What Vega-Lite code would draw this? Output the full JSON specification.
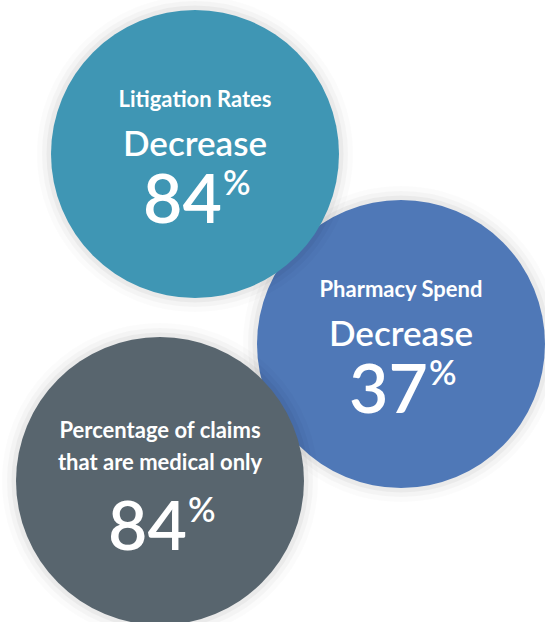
{
  "$schema": "https://vega.github.io/schema/vega-lite/v6.json",
  "width": 545,
  "height": 622,
  "autosize": "none",
  "padding": 0,
  "background": "#ffffff",
  "config": {"view": {"stroke": null}},
  "data": {
    "values": [
      {"id": "litigation", "label": "Litigation Rates", "change": "Decrease", "value": "84", "cx": 195, "cy": 154, "tier": "front"},
      {"id": "pharmacy", "label": "Pharmacy Spend", "change": "Decrease", "value": "37", "cx": 401, "cy": 344, "tier": "back"},
      {"id": "medical", "label": "Percentage of claims\nthat are medical only", "change": "", "value": "84", "cx": 160, "cy": 481, "tier": "front"}
    ]
  },
  "encoding": {
    "x": {"field": "cx", "type": "quantitative", "scale": {"domain": [0, 545], "nice": false, "zero": false}, "axis": null},
    "y": {"field": "cy", "type": "quantitative", "scale": {"domain": [0, 622], "nice": false, "zero": false, "reverse": true}, "axis": null}
  },
  "layer": [
    {"transform": [{"filter": "datum.tier == 'back'"}], "mark": {"type": "point", "shape": "circle", "filled": false, "size": 82944, "color": "#000000", "strokeWidth": 28, "strokeOpacity": 0.02}},
    {"transform": [{"filter": "datum.tier == 'back'"}], "mark": {"type": "point", "shape": "circle", "filled": false, "size": 82944, "color": "#000000", "strokeWidth": 18, "strokeOpacity": 0.035}},
    {"transform": [{"filter": "datum.tier == 'back'"}], "mark": {"type": "point", "shape": "circle", "filled": false, "size": 82944, "color": "#000000", "strokeWidth": 9, "strokeOpacity": 0.05}},
    {"transform": [{"filter": "datum.tier == 'back'"}], "mark": {"type": "circle", "size": 82944, "opacity": 1},
      "encoding": {"color": {"field": "id", "type": "nominal", "scale": {"domain": ["litigation", "pharmacy", "medical"], "range": ["#3f96b4", "#4f78b7", "#58656e"]}, "legend": null}}},
    {"transform": [{"filter": "datum.tier == 'front'"}], "mark": {"type": "point", "shape": "circle", "filled": false, "size": 82944, "color": "#000000", "strokeWidth": 28, "strokeOpacity": 0.02}},
    {"transform": [{"filter": "datum.tier == 'front'"}], "mark": {"type": "point", "shape": "circle", "filled": false, "size": 82944, "color": "#000000", "strokeWidth": 18, "strokeOpacity": 0.035}},
    {"transform": [{"filter": "datum.tier == 'front'"}], "mark": {"type": "point", "shape": "circle", "filled": false, "size": 82944, "color": "#000000", "strokeWidth": 9, "strokeOpacity": 0.05}},
    {"transform": [{"filter": "datum.tier == 'front'"}], "mark": {"type": "circle", "size": 82944, "opacity": 1},
      "encoding": {"color": {"field": "id", "type": "nominal", "scale": {"domain": ["litigation", "pharmacy", "medical"], "range": ["#3f96b4", "#4f78b7", "#58656e"]}, "legend": null}}},
    {"transform": [{"filter": "datum.change != ''"}], "mark": {"type": "text", "font": "Lato", "fontWeight": "bold", "fontSize": 22, "color": "#ffffff", "align": "center", "baseline": "alphabetic", "dy": -47},
      "encoding": {"text": {"field": "label"}}},
    {"transform": [{"filter": "datum.change == ''"}], "mark": {"type": "text", "font": "Lato", "fontWeight": "bold", "fontSize": 22, "color": "#ffffff", "align": "center", "baseline": "alphabetic", "dy": -43, "lineBreak": "\n", "lineHeight": 32},
      "encoding": {"text": {"field": "label"}}},
    {"transform": [{"filter": "datum.change != ''"}], "mark": {"type": "text", "font": "Lato", "fontWeight": 600, "fontSize": 35, "color": "#ffffff", "align": "center", "baseline": "alphabetic", "dy": 2},
      "encoding": {"text": {"field": "change"}}},
    {"mark": {"type": "text", "font": "Lato", "fontWeight": 600, "fontSize": 68, "color": "#ffffff", "align": "right", "baseline": "alphabetic", "dx": 27, "dy": 69},
      "encoding": {"text": {"field": "value"}}},
    {"mark": {"type": "text", "font": "Lato", "fontWeight": 600, "fontSize": 34, "color": "#ffffff", "align": "left", "baseline": "top", "dx": 28, "dy": 14, "text": "%"},
      "encoding": {}}
  ]
}
